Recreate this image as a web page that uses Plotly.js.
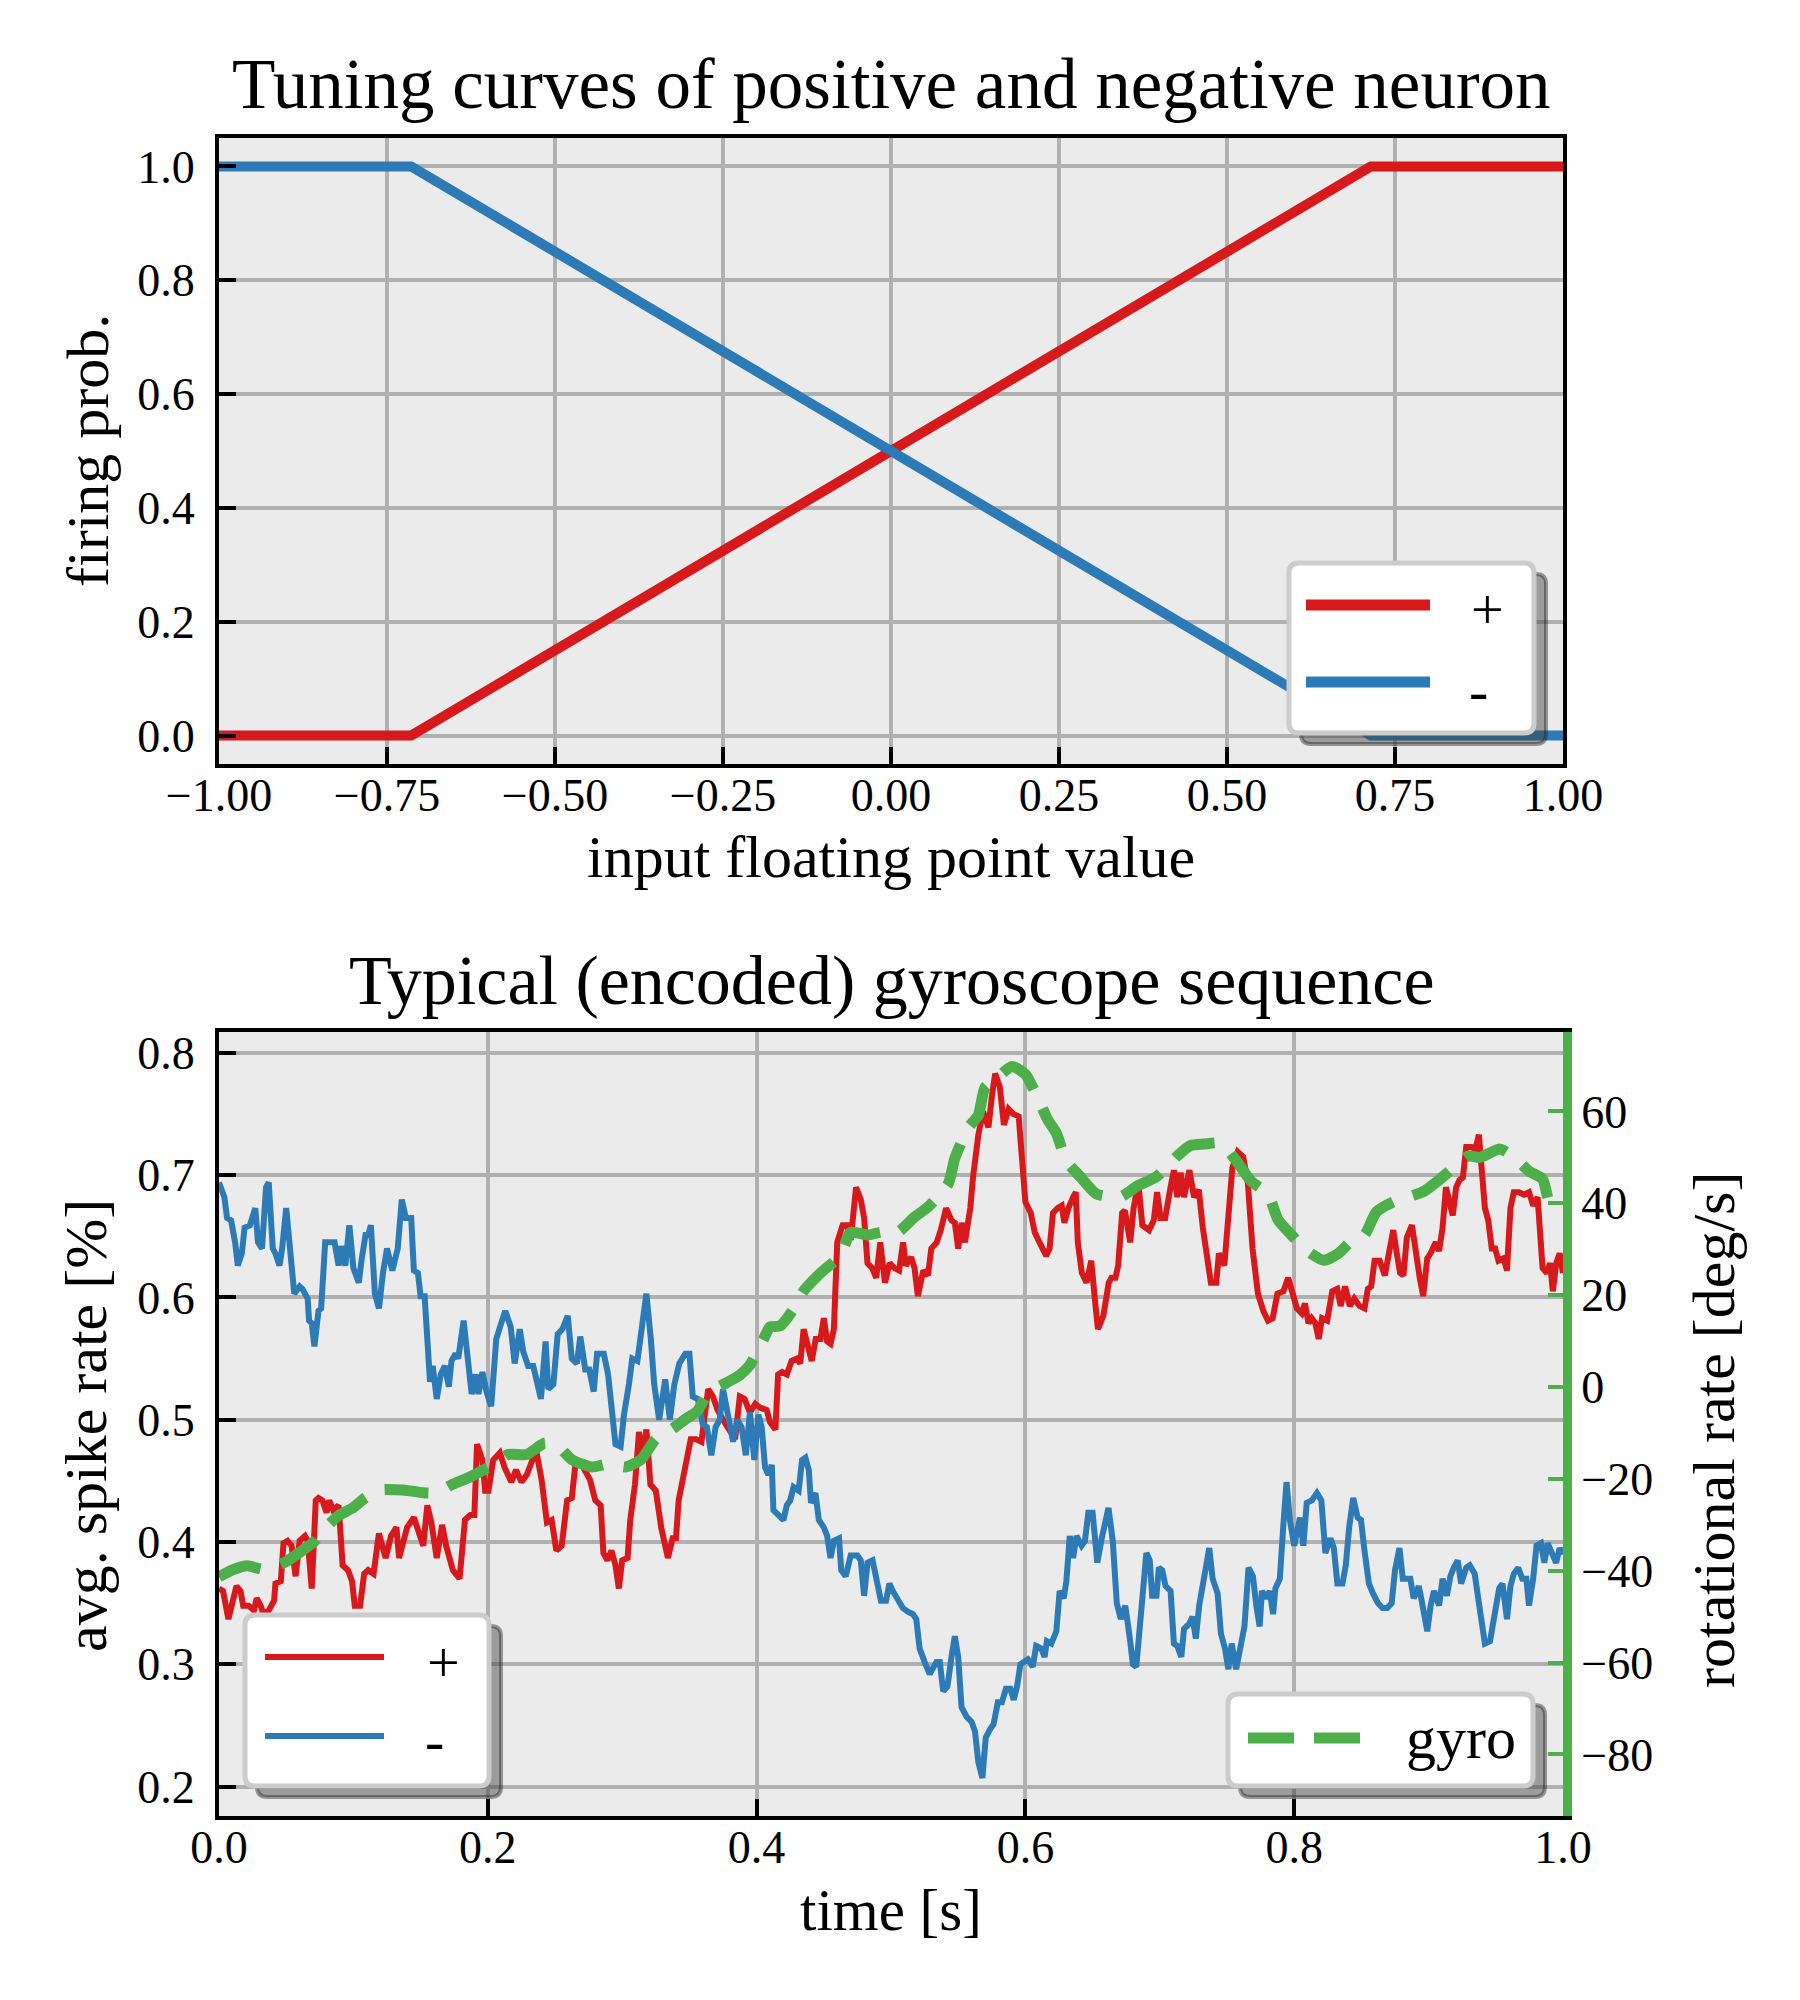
<!DOCTYPE html>
<html>
<head>
<meta charset="utf-8">
<script src="https://cdn.plot.ly/plotly-3.1.0.min.js"></script>
<style>
  body { margin: 0; background: #ffffff; }
  #chart { width: 1800px; height: 2000px; }
</style>
</head>
<body>
<div id="chart"></div>
<script>
// ---- data: tuning curves ----
const tuneInput = [-1.0, -0.714, 0.714, 1.0];
const tunePos = [0.0, 0.0, 1.0, 1.0];
const tuneNeg = [1.0, 1.0, 0.0, 0.0];

// ---- data: encoded gyroscope sequence ----
const tPos = [
  0.000, 0.003, 0.007, 0.009, 0.013, 0.016, 0.018, 0.022, 0.026, 0.028, 0.031, 0.033, 0.037, 0.041, 0.042,
  0.046, 0.048, 0.051, 0.054, 0.057, 0.060, 0.064, 0.066, 0.069, 0.072, 0.074, 0.077, 0.080, 0.082, 0.085,
  0.089, 0.092, 0.096, 0.099, 0.101, 0.105, 0.108, 0.111, 0.115, 0.119, 0.121, 0.124, 0.128, 0.132, 0.134,
  0.137, 0.140, 0.145, 0.149, 0.152, 0.155, 0.158, 0.162, 0.166, 0.169, 0.172, 0.174, 0.179, 0.183, 0.187,
  0.190, 0.192, 0.196, 0.198, 0.2005, 0.204, 0.209, 0.2125, 0.2175, 0.221, 0.225, 0.229, 0.2325, 0.236, 0.240,
  0.244, 0.2475, 0.251, 0.255, 0.259, 0.2625, 0.2655, 0.269, 0.2725, 0.276, 0.280, 0.284, 0.286, 0.289, 0.292,
  0.295, 0.2975, 0.300, 0.304, 0.306, 0.3095, 0.3125, 0.315, 0.318, 0.321, 0.325, 0.329, 0.334, 0.3375, 0.340,
  0.342, 0.345, 0.3475, 0.351, 0.355, 0.359, 0.361, 0.364, 0.3675, 0.371, 0.375, 0.3775, 0.381, 0.384, 0.3875,
  0.391, 0.395, 0.399, 0.4025, 0.4075, 0.410, 0.414, 0.416, 0.419, 0.4225, 0.426, 0.430, 0.4325, 0.435, 0.439,
  0.441, 0.444, 0.4475, 0.450, 0.4525, 0.455, 0.4575, 0.460, 0.464, 0.4675, 0.470, 0.474, 0.4775, 0.480, 0.4825,
  0.486, 0.489, 0.492, 0.4955, 0.499, 0.5025, 0.506, 0.509, 0.511, 0.515, 0.5175, 0.520, 0.524, 0.5275, 0.530,
  0.534, 0.537, 0.541, 0.545, 0.5475, 0.550, 0.5525, 0.555, 0.559, 0.561, 0.565, 0.5685, 0.5725, 0.575, 0.5775,
  0.581, 0.584, 0.5875, 0.591, 0.595, 0.5975, 0.600, 0.604, 0.607, 0.6105, 0.6155, 0.618, 0.6205, 0.624, 0.627,
  0.629, 0.632, 0.6355, 0.6375, 0.639, 0.642, 0.6455, 0.649, 0.652, 0.654, 0.658, 0.662, 0.664, 0.667, 0.669,
  0.672, 0.674, 0.678, 0.6805, 0.684, 0.687, 0.692, 0.6955, 0.698, 0.7005, 0.704, 0.708, 0.7105, 0.713, 0.7155,
  0.718, 0.722, 0.7255, 0.729, 0.732, 0.7355, 0.738, 0.742, 0.744, 0.748, 0.7505, 0.754, 0.758, 0.762, 0.7655,
  0.769, 0.773, 0.777, 0.7805, 0.784, 0.7875, 0.792, 0.7955, 0.798, 0.802, 0.8056, 0.808, 0.8106, 0.813, 0.8157,
  0.8182, 0.8207, 0.8245, 0.8283, 0.832, 0.8346, 0.8379, 0.8414, 0.8447, 0.8485, 0.8523, 0.8548, 0.8573, 0.8598, 0.8636,
  0.8674, 0.870, 0.8737, 0.8763, 0.8788, 0.8813, 0.8838, 0.8876, 0.8909, 0.8934, 0.896, 0.899, 0.9015, 0.9053, 0.9078,
  0.9104, 0.9129, 0.9154, 0.918, 0.9205, 0.923, 0.9255, 0.928, 0.9318, 0.9348, 0.9374, 0.9394, 0.9419, 0.9444, 0.947,
  0.9495, 0.952, 0.9558, 0.9583, 0.9609, 0.9634, 0.9672, 0.971, 0.9747, 0.9778, 0.9811, 0.9848, 0.9879, 0.9904, 0.9924,
  0.995, 0.9975, 1.000
];
const ratePos = [
  0.362, 0.360, 0.337, 0.348, 0.364, 0.360, 0.348, 0.348, 0.344, 0.354, 0.348, 0.341, 0.344, 0.352, 0.366,
  0.368, 0.399, 0.401, 0.397, 0.372, 0.401, 0.405, 0.401, 0.362, 0.434, 0.436, 0.434, 0.424, 0.434, 0.426,
  0.430, 0.381, 0.377, 0.368, 0.348, 0.348, 0.374, 0.377, 0.374, 0.407, 0.397, 0.387, 0.405, 0.412, 0.387,
  0.401, 0.412, 0.420, 0.407, 0.397, 0.430, 0.416, 0.387, 0.414, 0.397, 0.385, 0.377, 0.370, 0.418, 0.422,
  0.422, 0.480, 0.467, 0.442, 0.442, 0.467, 0.473, 0.461, 0.449, 0.459, 0.449, 0.455, 0.467, 0.475, 0.451,
  0.416, 0.418, 0.393, 0.397, 0.434, 0.436, 0.467, 0.465, 0.459, 0.451, 0.434, 0.430, 0.391, 0.385, 0.393,
  0.381, 0.362, 0.385, 0.387, 0.418, 0.447, 0.490, 0.467, 0.492, 0.447, 0.442, 0.412, 0.387, 0.403, 0.403,
  0.434, 0.451, 0.469, 0.484, 0.484, 0.482, 0.500, 0.525, 0.519, 0.508, 0.500, 0.496, 0.490, 0.484, 0.519,
  0.517, 0.506, 0.513, 0.510, 0.508, 0.498, 0.492, 0.537, 0.539, 0.537, 0.548, 0.550, 0.546, 0.574, 0.558,
  0.548, 0.566, 0.566, 0.583, 0.564, 0.562, 0.574, 0.645, 0.659, 0.659, 0.647, 0.690, 0.680, 0.665, 0.628,
  0.624, 0.616, 0.645, 0.612, 0.628, 0.624, 0.622, 0.645, 0.626, 0.633, 0.624, 0.601, 0.622, 0.618, 0.640,
  0.645, 0.655, 0.673, 0.663, 0.661, 0.640, 0.661, 0.645, 0.673, 0.698, 0.733, 0.752, 0.739, 0.764, 0.783,
  0.772, 0.741, 0.754, 0.750, 0.748, 0.711, 0.678, 0.669, 0.653, 0.645, 0.634, 0.640, 0.669, 0.673, 0.675,
  0.661, 0.673, 0.682, 0.686, 0.645, 0.620, 0.612, 0.630, 0.595, 0.574, 0.585, 0.612, 0.616, 0.616, 0.626,
  0.669, 0.671, 0.645, 0.673, 0.694, 0.659, 0.655, 0.663, 0.686, 0.665, 0.665, 0.690, 0.704, 0.682, 0.702,
  0.682, 0.704, 0.682, 0.688, 0.657, 0.632, 0.612, 0.612, 0.636, 0.626, 0.657, 0.706, 0.719, 0.715, 0.694,
  0.640, 0.603, 0.589, 0.581, 0.583, 0.603, 0.605, 0.616, 0.607, 0.591, 0.587, 0.595, 0.579, 0.583, 0.579,
  0.566, 0.583, 0.581, 0.605, 0.607, 0.593, 0.609, 0.593, 0.599, 0.593, 0.591, 0.607, 0.609, 0.630, 0.630,
  0.618, 0.634, 0.655, 0.636, 0.620, 0.618, 0.649, 0.659, 0.632, 0.616, 0.601, 0.632, 0.636, 0.645, 0.638,
  0.657, 0.690, 0.678, 0.667, 0.690, 0.696, 0.698, 0.723, 0.723, 0.721, 0.733, 0.706, 0.673, 0.663, 0.640,
  0.640, 0.630, 0.632, 0.622, 0.673, 0.686, 0.686, 0.684, 0.686, 0.675, 0.682, 0.624, 0.620, 0.628, 0.605,
  0.628, 0.636, 0.620
];

const tNeg = [
  0.000, 0.004, 0.006, 0.009, 0.012, 0.014, 0.017, 0.019, 0.023, 0.027, 0.029, 0.032, 0.035, 0.037, 0.040,
  0.042, 0.045, 0.047, 0.050, 0.053, 0.056, 0.060, 0.062, 0.066, 0.067, 0.069, 0.071, 0.074, 0.076, 0.079,
  0.082, 0.086, 0.089, 0.091, 0.094, 0.097, 0.100, 0.104, 0.106, 0.109, 0.111, 0.113, 0.116, 0.119, 0.122,
  0.125, 0.129, 0.133, 0.136, 0.139, 0.143, 0.145, 0.148, 0.150, 0.153, 0.155, 0.157, 0.159, 0.162, 0.165,
  0.168, 0.171, 0.173, 0.176, 0.178, 0.182, 0.185, 0.188, 0.191, 0.193, 0.196, 0.199, 0.2025, 0.2063, 0.210,
  0.213, 0.217, 0.220, 0.2238, 0.2263, 0.230, 0.2338, 0.237, 0.2395, 0.243, 0.245, 0.2488, 0.252, 0.2555, 0.2595,
  0.2625, 0.2663, 0.2688, 0.2725, 0.2755, 0.2788, 0.2813, 0.2863, 0.2895, 0.2925, 0.295, 0.2988, 0.3013, 0.305, 0.3075,
  0.3113, 0.315, 0.318, 0.3213, 0.3238, 0.3275, 0.332, 0.3355, 0.3388, 0.3425, 0.347, 0.350, 0.3525, 0.3563, 0.360,
  0.363, 0.3663, 0.3695, 0.3725, 0.375, 0.3788, 0.3825, 0.3855, 0.3888, 0.392, 0.395, 0.3983, 0.4013, 0.4038, 0.4063,
  0.4088, 0.4113, 0.4125, 0.4163, 0.420, 0.4225, 0.425, 0.4275, 0.4313, 0.4338, 0.4363, 0.4388, 0.4405, 0.4438, 0.4463,
  0.450, 0.4525, 0.455, 0.4575, 0.4613, 0.463, 0.4663, 0.470, 0.475, 0.4775, 0.480, 0.4825, 0.4863, 0.490, 0.4925,
  0.4963, 0.4988, 0.5013, 0.505, 0.5088, 0.5125, 0.5163, 0.5188, 0.5213, 0.525, 0.5288, 0.5338, 0.5363, 0.5388, 0.542,
  0.545, 0.5475, 0.550, 0.5525, 0.5563, 0.560, 0.5625, 0.565, 0.568, 0.5705, 0.5738, 0.5763, 0.5795, 0.5825, 0.5855,
  0.5888, 0.5913, 0.5938, 0.5963, 0.600, 0.6018, 0.6055, 0.608, 0.6118, 0.6143, 0.616, 0.6193, 0.623, 0.6255, 0.6285,
  0.6305, 0.633, 0.6355, 0.638, 0.6418, 0.6443, 0.6468, 0.650, 0.6535, 0.6568, 0.6593, 0.6618, 0.665, 0.668, 0.671,
  0.6743, 0.6775, 0.680, 0.6825, 0.686, 0.690, 0.6925, 0.6943, 0.6975, 0.6993, 0.7018, 0.7043, 0.708, 0.7105, 0.713,
  0.716, 0.718, 0.7218, 0.7243, 0.7268, 0.7293, 0.733, 0.7368, 0.7393, 0.743, 0.7455, 0.7485, 0.751, 0.7535, 0.7568,
  0.7605, 0.763, 0.766, 0.7693, 0.7718, 0.7743, 0.776, 0.7793, 0.7818, 0.7843, 0.786, 0.7893, 0.7918, 0.7943, 0.7968,
  0.800, 0.8043, 0.8068, 0.8093, 0.8131, 0.8169, 0.8202, 0.8232, 0.827, 0.8295, 0.8321, 0.8359, 0.8384, 0.8409, 0.8439,
  0.8472, 0.8497, 0.8523, 0.8556, 0.8586, 0.8624, 0.8657, 0.8692, 0.8725, 0.875, 0.8783, 0.8808, 0.8838, 0.8864, 0.8889,
  0.8927, 0.8952, 0.899, 0.9015, 0.904, 0.9078, 0.9104, 0.9136, 0.9162, 0.9187, 0.9217, 0.9242, 0.928, 0.9306, 0.9343,
  0.9369, 0.9394, 0.9419, 0.9457, 0.949, 0.9525, 0.955, 0.9583, 0.9609, 0.9634, 0.9667, 0.9697, 0.9727, 0.9747, 0.9778,
  0.9803, 0.9836, 0.9861, 0.9886, 0.9919, 0.9949, 0.9975, 1.000
];
const rateNeg = [
  0.694, 0.682, 0.665, 0.663, 0.645, 0.626, 0.636, 0.657, 0.659, 0.673, 0.645, 0.640, 0.690, 0.694, 0.640,
  0.636, 0.626, 0.640, 0.673, 0.638, 0.603, 0.609, 0.607, 0.599, 0.581, 0.579, 0.560, 0.589, 0.591, 0.645,
  0.645, 0.645, 0.626, 0.642, 0.626, 0.659, 0.624, 0.612, 0.630, 0.651, 0.651, 0.659, 0.603, 0.591, 0.620,
  0.640, 0.622, 0.640, 0.680, 0.665, 0.665, 0.622, 0.620, 0.601, 0.601, 0.566, 0.531, 0.544, 0.517, 0.537,
  0.544, 0.527, 0.548, 0.554, 0.550, 0.581, 0.550, 0.521, 0.537, 0.521, 0.539, 0.523, 0.511, 0.566, 0.579,
  0.589, 0.576, 0.546, 0.574, 0.556, 0.544, 0.544, 0.529, 0.517, 0.564, 0.525, 0.529, 0.570, 0.574, 0.585,
  0.550, 0.546, 0.568, 0.541, 0.541, 0.523, 0.554, 0.554, 0.537, 0.500, 0.480, 0.478, 0.504, 0.529, 0.550,
  0.548, 0.579, 0.603, 0.566, 0.529, 0.500, 0.533, 0.500, 0.529, 0.546, 0.554, 0.554, 0.519, 0.517, 0.496,
  0.494, 0.471, 0.494, 0.500, 0.525, 0.506, 0.482, 0.500, 0.494, 0.471, 0.506, 0.467, 0.504, 0.494, 0.461,
  0.455, 0.463, 0.426, 0.422, 0.418, 0.430, 0.434, 0.445, 0.442, 0.467, 0.469, 0.459, 0.432, 0.440, 0.418,
  0.412, 0.405, 0.387, 0.401, 0.403, 0.377, 0.372, 0.389, 0.389, 0.385, 0.356, 0.383, 0.385, 0.368, 0.352,
  0.352, 0.366, 0.360, 0.354, 0.346, 0.343, 0.341, 0.337, 0.313, 0.302, 0.292, 0.302, 0.302, 0.278, 0.282,
  0.306, 0.323, 0.306, 0.265, 0.257, 0.253, 0.245, 0.220, 0.207, 0.240, 0.247, 0.251, 0.269, 0.269, 0.280,
  0.280, 0.271, 0.282, 0.300, 0.302, 0.304, 0.298, 0.315, 0.313, 0.306, 0.319, 0.317, 0.327, 0.360, 0.354,
  0.368, 0.405, 0.387, 0.405, 0.397, 0.401, 0.424, 0.424, 0.383, 0.403, 0.418, 0.428, 0.401, 0.350, 0.337,
  0.348, 0.323, 0.300, 0.298, 0.343, 0.391, 0.385, 0.356, 0.356, 0.379, 0.377, 0.364, 0.360, 0.317, 0.315,
  0.306, 0.329, 0.333, 0.339, 0.321, 0.348, 0.372, 0.395, 0.370, 0.358, 0.325, 0.313, 0.296, 0.317, 0.296,
  0.317, 0.331, 0.379, 0.372, 0.348, 0.331, 0.360, 0.354, 0.360, 0.341, 0.362, 0.370, 0.412, 0.449, 0.418,
  0.397, 0.420, 0.397, 0.432, 0.434, 0.440, 0.434, 0.391, 0.403, 0.395, 0.366, 0.366, 0.381, 0.412, 0.436,
  0.420, 0.418, 0.393, 0.366, 0.358, 0.350, 0.346, 0.346, 0.350, 0.377, 0.395, 0.370, 0.370, 0.370, 0.354,
  0.364, 0.350, 0.327, 0.348, 0.360, 0.348, 0.370, 0.356, 0.372, 0.379, 0.385, 0.366, 0.379, 0.381, 0.374,
  0.354, 0.331, 0.317, 0.319, 0.339, 0.362, 0.366, 0.337, 0.364, 0.374, 0.379, 0.370, 0.370, 0.348, 0.370,
  0.397, 0.399, 0.383, 0.399, 0.391, 0.383, 0.395, 0.390
];

const tGyro = [
  0.000, 0.011, 0.021, 0.033, 0.050, 0.061, 0.071, 0.077, 0.089, 0.099, 0.109, 0.120, 0.137, 0.152, 0.162,
  0.173, 0.186, 0.197, 0.205, 0.215, 0.229, 0.2425, 0.2525, 0.2625, 0.2775, 0.290, 0.3025, 0.314, 0.325, 0.3375,
  0.3475, 0.356, 0.364, 0.3775, 0.3875, 0.395, 0.405, 0.410, 0.4175, 0.4275, 0.435, 0.4475, 0.4625, 0.470, 0.4825,
  0.4925, 0.505, 0.5175, 0.5275, 0.5425, 0.5475, 0.5575, 0.565, 0.570, 0.580, 0.590, 0.600, 0.608, 0.6168, 0.623,
  0.6305, 0.6405, 0.653, 0.6705, 0.683, 0.698, 0.713, 0.723, 0.733, 0.7455, 0.7555, 0.768, 0.7805, 0.788, 0.798,
  0.808, 0.822, 0.8333, 0.8434, 0.8523, 0.8611, 0.8737, 0.8851, 0.8965, 0.9066, 0.9179, 0.9293, 0.9381, 0.9533, 0.9646,
  0.9747, 0.9848, 0.9899, 1.000
];
const gyroRate = [
  -41.3, -39.7, -38.9, -39.7, -38.0, -35.8, -33.6, -31.3, -28.0, -26.4, -24.1, -22.4, -22.4, -23.0, -23.0,
  -21.3, -19.7, -18.0, -16.9, -14.7, -14.7, -12.2, -13.0, -15.8, -17.4, -16.7, -17.4, -15.8, -11.3, -9.1,
  -6.9, -5.2, -1.3, 0.9, 2.6, 4.8, 10.3, 13.1, 13.3, 17.0, 20.9, 24.8, 28.7, 33.7, 33.1,
  33.7, 33.7, 37.0, 39.2, 44.2, 49.8, 56.4, 59.2, 65.3, 67.6, 69.8, 68.1, 63.7, 58.1, 55.3,
  49.2, 45.9, 42.0, 41.4, 43.7, 45.9, 50.3, 52.6, 52.9, 53.1, 49.8, 44.8, 42.0, 36.4, 33.1,
  30.0, 27.6, 29.2, 32.0, 33.1, 38.1, 40.3, 41.4, 42.6, 44.8, 47.6, 50.3, 50.0, 51.8, 49.8,
  47.0, 45.3, 40.3, 38.5
];

const tuneTicks = [-1.0, -0.75, -0.5, -0.25, 0.0, 0.25, 0.5, 0.75, 1.0];
const probTicks = [0.0, 0.2, 0.4, 0.6, 0.8, 1.0];
const timeTicks = [0.0, 0.2, 0.4, 0.6, 0.8, 1.0];
const spikeTicks = [0.2, 0.3, 0.4, 0.5, 0.6, 0.7, 0.8];
const gyroTicks = [-80, -60, -40, -20, 0, 20, 40, 60];

// ---- style ----
const RED = "#d7191c", BLUE = "#2c7bb6", GREEN = "#4daf4a";
const FONT = "Liberation Serif";
const W = 1800, H = 2000;
const X = px => px / W;          // pixel -> paper
const Y = py => 1 - py / H;

const tickFont = { family: FONT, size: 46, color: "#000" };
const gridCol = "#b0b0b0";

function axisBase(extra) {
  return Object.assign({
    showline: true, linecolor: "#000", linewidth: 4, mirror: true,
    ticks: "inside", ticklen: 17, tickwidth: 4, tickcolor: "#000",
    showgrid: true, gridcolor: gridCol, gridwidth: 4,
    zeroline: false, tickfont: tickFont, fixedrange: true
  }, extra);
}

function roundRect(x0, y0, x1, y1, r) {
  return "M" + X(x0 + r) + "," + Y(y0) +
    " L" + X(x1 - r) + "," + Y(y0) + " Q" + X(x1) + "," + Y(y0) + " " + X(x1) + "," + Y(y0 + r) +
    " L" + X(x1) + "," + Y(y1 - r) + " Q" + X(x1) + "," + Y(y1) + " " + X(x1 - r) + "," + Y(y1) +
    " L" + X(x0 + r) + "," + Y(y1) + " Q" + X(x0) + "," + Y(y1) + " " + X(x0) + "," + Y(y1 - r) +
    " L" + X(x0) + "," + Y(y0 + r) + " Q" + X(x0) + "," + Y(y0) + " " + X(x0 + r) + "," + Y(y0) + " Z";
}

// legend box with matplotlib-style drop shadow
function legendBox(x0, y0, x1, y1) {
  return [
    { type: "path", xref: "paper", yref: "paper", layer: "above",
      path: roundRect(x0 + 12, y0 + 11, x1 + 12, y1 + 11, 10),
      fillcolor: "rgba(60,60,60,0.45)", line: { color: "rgba(40,40,40,0.45)", width: 4 } },
    { type: "path", xref: "paper", yref: "paper", layer: "above",
      path: roundRect(x0, y0, x1, y1, 10),
      fillcolor: "#ffffff", line: { color: "#cccccc", width: 5 } }
  ];
}
function legendLine(x0, x1, y, color, width, dash) {
  return { type: "line", xref: "paper", yref: "paper", layer: "above",
    x0: X(x0), x1: X(x1), y0: Y(y), y1: Y(y),
    line: { color: color, width: width, dash: dash || "solid" } };
}
function label(text, x, y, size, angle) {
  return { text: text, x: X(x), y: Y(y), xref: "paper", yref: "paper",
    xanchor: "center", yanchor: "middle", showarrow: false, textangle: angle || 0,
    font: { family: FONT, size: size, color: "#000" } };
}

const traces = [
  { x: tuneInput, y: tunePos, name: "+", type: "scatter", mode: "lines",
    line: { color: RED, width: 10 }, xaxis: "x", yaxis: "y" },
  { x: tuneInput, y: tuneNeg, name: "-", type: "scatter", mode: "lines",
    line: { color: BLUE, width: 10 }, xaxis: "x", yaxis: "y" },
  { x: tGyro, y: gyroRate, name: "gyro", type: "scatter", mode: "lines",
    line: { color: GREEN, width: 11, dash: "44px,21px", shape: "spline", smoothing: 0.6 },
    xaxis: "x2", yaxis: "y3" },
  { x: tPos, y: ratePos, name: "+", type: "scatter", mode: "lines",
    line: { color: RED, width: 6 }, xaxis: "x2", yaxis: "y2" },
  { x: tNeg, y: rateNeg, name: "-", type: "scatter", mode: "lines",
    line: { color: BLUE, width: 6 }, xaxis: "x2", yaxis: "y2" }
];

const layout = {
  width: W, height: H,
  margin: { l: 0, r: 0, t: 0, b: 0 },
  paper_bgcolor: "#ffffff",
  plot_bgcolor: "#ebebeb",
  showlegend: false,
  xaxis: axisBase({ domain: [X(219), X(1563)], anchor: "y", range: [-1, 1],
    tickvals: tuneTicks, tickformat: ".2f", ticklabelstandoff: -12 }),
  yaxis: axisBase({ domain: [Y(764), Y(138)], anchor: "x", range: [-0.05, 1.05],
    tickvals: probTicks, tickformat: ".1f", ticklabelstandoff: 11 }),
  xaxis2: axisBase({ domain: [X(219), X(1563)], anchor: "y2", range: [0, 1],
    tickvals: timeTicks, tickformat: ".1f", ticklabelstandoff: -12 }),
  yaxis2: axisBase({ domain: [Y(1816), Y(1032)], anchor: "x2", range: [0.176, 0.817],
    tickvals: spikeTicks, tickformat: ".1f", mirror: false, ticklabelstandoff: 11 }),
  yaxis3: {
    overlaying: "y2", side: "right", anchor: "x2", range: [-93.4, 77.3],
    tickvals: gyroTicks, tickformat: "d", showgrid: false, zeroline: false,
    showline: true, linecolor: GREEN, linewidth: 9,
    ticks: "inside", ticklen: 15, tickwidth: 4, tickcolor: GREEN,
    tickfont: tickFont, fixedrange: true, ticklabelstandoff: 0
  },
  shapes: [].concat(
    legendBox(1289, 563, 1534, 733),
    [legendLine(1306, 1430, 605, RED, 11), legendLine(1306, 1430, 682, BLUE, 11)],
    legendBox(245, 1615, 489, 1786),
    [legendLine(265, 384, 1657, RED, 6), legendLine(265, 384, 1736, BLUE, 6)],
    legendBox(1228, 1694, 1533, 1786),
    [legendLine(1248, 1364, 1738, GREEN, 11, "46px,20px")]
  ),
  annotations: [
    label("Tuning curves of positive and negative neuron", 891, 84, 71),
    label("input floating point value", 891, 857, 60),
    label("firing prob.", 88, 451, 60, -90),
    label("Typical (encoded) gyroscope sequence", 891, 980, 70),
    label("time [s]", 891, 1910, 59),
    label("avg. spike rate [%]", 86, 1426, 60, -90),
    label("rotational rate [deg/s]", 1714, 1430, 60, -90),
    label("+", 1487, 610, 58),
    label("-", 1478, 690, 58),
    label("+", 443, 1662, 58),
    label("-", 434, 1740, 58),
    label("gyro", 1461, 1738, 60)
  ]
};

Plotly.newPlot("chart", traces, layout, { staticPlot: true, displayModeBar: false });
</script>
</body>
</html>
